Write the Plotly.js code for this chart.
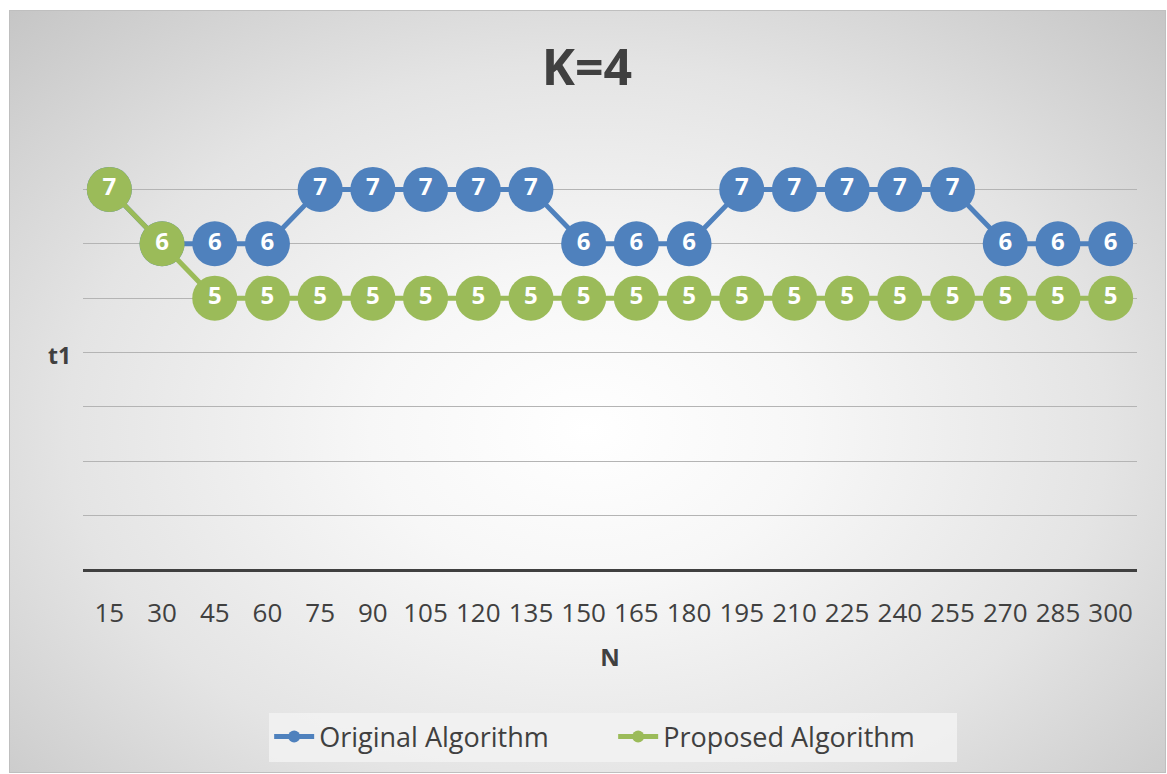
<!DOCTYPE html>
<html>
<head>
<meta charset="utf-8">
<script src="https://cdn.plot.ly/plotly-3.0.1.min.js"></script>
<style>
  html, body { margin: 0; padding: 0; background: #ffffff; }
  #frame {
    position: absolute; left: 9px; top: 10px; width: 1155px; height: 761px;
    border: 1px solid #bfbfbf;
    background: radial-gradient(ellipse 75% 80% at 50% 55%, #ffffff 0%, #f7f7f7 25%, #e4e4e4 60%, #c2c2c2 100%);
  }
  #chart { position: absolute; left: 0; top: 0; width: 1167px; height: 774px; }
</style>
</head>
<body>
<div id="frame"></div>
<div id="chart"></div>
<script>
// Run time t1 for K=4 over N
const categories = ['15','30','45','60','75','90','105','120','135','150','165','180','195','210','225','240','255','270','285','300'];
const originalValues = [7, 6, 6, 6, 7, 7, 7, 7, 7, 6, 6, 6, 7, 7, 7, 7, 7, 6, 6, 6];
const proposedValues = [7, 6, 5, 5, 5, 5, 5, 5, 5, 5, 5, 5, 5, 5, 5, 5, 5, 5, 5, 5];

const FONT = 'Open Sans, sans-serif';
const TEXT = '#404040';
const BLUE = '#4f81bd';
const GREEN = '#9bbb59';

function series(name, values, color) {
  return {
    type: 'scatter',
    mode: 'lines+markers+text',
    name: name,
    x: categories,
    y: values,
    text: values.map(String),
    textposition: 'middle center',
    textfont: { family: FONT, size: 24, color: '#ffffff', weight: 'bold' },
    line: { color: color, width: 5 },
    marker: { color: color, size: 45 },
    cliponaxis: false,
    hoverinfo: 'x+y'
  };
}

const traces = [
  series('Original Algorithm', originalValues, BLUE),
  series('Proposed Algorithm', proposedValues, GREEN)
];

const layout = {
  width: 1167, height: 774,
  margin: { l: 83, r: 30, t: 135, b: 204 },
  paper_bgcolor: 'rgba(0,0,0,0)',
  plot_bgcolor: 'rgba(0,0,0,0)',
  font: { family: FONT, color: TEXT },
  title: {
    text: '<b>K=4</b>',
    font: { family: FONT, size: 50, color: TEXT },
    x: 0.503, xanchor: 'center', y: 0.913, yanchor: 'middle'
  },
  xaxis: {
    type: 'category',
    range: [-0.5, 19.5],
    showgrid: false,
    showline: false,
    zeroline: false,
    ticks: 'outside', ticklen: 20, tickcolor: 'rgba(0,0,0,0)',
    tickfont: { family: FONT, size: 26, color: TEXT },
    title: { text: '<b>N</b>', font: { family: FONT, size: 24, color: TEXT }, standoff: 19 }
  },
  yaxis: {
    range: [0, 8],
    dtick: 1,
    showticklabels: false,
    showgrid: true, gridcolor: '#b4b4b4', gridwidth: 1,
    zeroline: true, zerolinecolor: '#404040', zerolinewidth: 3,
    showline: false, ticks: ''
  },
  annotations: [{
    text: '<b>t1</b>', xref: 'paper', yref: 'y', x: -0.022, y: 3.95,
    xanchor: 'center', yanchor: 'middle', showarrow: false,
    font: { family: FONT, size: 23, color: TEXT }
  }],
  showlegend: true,
  legend: {
    orientation: 'h',
    x: 0.503, xanchor: 'center',
    y: -0.384, yanchor: 'middle',
    bgcolor: 'rgba(242,242,242,0.85)',
    font: { family: FONT, size: 27, color: TEXT },
    itemsizing: 'constant',
    itemwidth: 40,
    entrywidth: 289,
    traceorder: 'normal'
  }
};

Plotly.newPlot('chart', traces, layout, { displayModeBar: false, staticPlot: true });
</script>
</body>
</html>
